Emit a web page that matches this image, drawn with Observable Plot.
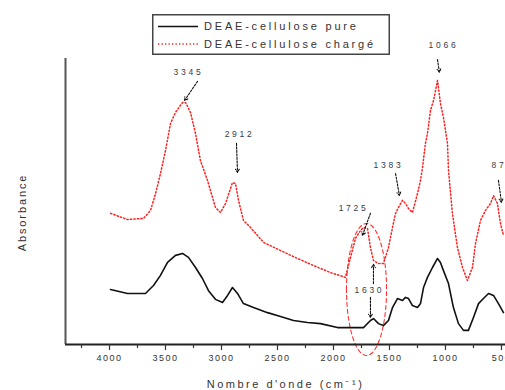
<!DOCTYPE html>
<html><head><meta charset="utf-8">
<script src="https://cdn.jsdelivr.net/npm/d3@7"></script>
<script src="https://cdn.jsdelivr.net/npm/@observablehq/plot@0.6"></script>
<style>
html,body{margin:0;padding:0;background:#fff;}
#wrap{position:relative;width:505px;height:390px;overflow:hidden;}
#legend{position:absolute;left:152px;top:14px;}
</style>
</head><body>
<div id="wrap">
  <div id="chart"></div>
  <svg id="legend" width="238" height="41" xmlns="http://www.w3.org/2000/svg"></svg>
</div>
<script>
// Series: DEAE-cellulose chargé (red, dotted)
const wnCharge = [3991,3839,3696,3634,3589,3545,3500,3455,3411,3348,3321,3277,3232,3188,3125,3054,3009,2964,2902,2875,2848,2804,2741,2625,2473,2321,2179,2027,1893,1848,1804,1759,1732,1696,1670,1643,1598,1554,1509,1473,1446,1420,1384,1357,1330,1295,1250,1223,1205,1179,1161,1134,1107,1071,1045,1018,982,973,938,893,848,804,759,732,687,643,598,571,536,509,482];
const absCharge = [0.465,0.443,0.447,0.475,0.535,0.606,0.688,0.784,0.823,0.858,0.858,0.823,0.748,0.652,0.582,0.486,0.468,0.500,0.574,0.571,0.511,0.440,0.415,0.362,0.333,0.305,0.280,0.255,0.238,0.309,0.376,0.404,0.415,0.411,0.344,0.298,0.287,0.287,0.344,0.415,0.465,0.486,0.511,0.500,0.482,0.468,0.535,0.582,0.628,0.713,0.748,0.830,0.865,0.936,0.855,0.805,0.713,0.617,0.465,0.344,0.273,0.227,0.273,0.358,0.440,0.475,0.500,0.528,0.500,0.429,0.387];
// Series: DEAE-cellulose pure (black, solid)
const wnPure = [3991,3839,3679,3607,3545,3482,3411,3348,3295,3232,3170,3116,3054,2991,2946,2902,2857,2804,2714,2589,2473,2357,2232,2116,1964,1732,1670,1643,1598,1554,1509,1473,1429,1384,1357,1330,1295,1250,1223,1196,1161,1116,1071,1045,1018,973,929,884,839,795,750,705,661,616,571,527,482];
const absPure = [0.195,0.181,0.181,0.209,0.245,0.291,0.316,0.323,0.309,0.273,0.234,0.191,0.160,0.149,0.174,0.202,0.181,0.145,0.131,0.113,0.099,0.085,0.078,0.074,0.060,0.060,0.085,0.092,0.074,0.067,0.085,0.131,0.163,0.156,0.167,0.163,0.138,0.131,0.145,0.202,0.238,0.273,0.305,0.291,0.262,0.216,0.131,0.074,0.050,0.050,0.096,0.145,0.163,0.181,0.174,0.145,0.113];
// Axis ticks
const majorTicks = [4000,3500,3000,2500,2000,1500,1000,500];
const minorTicks = [4250,3750,3250,2750,2250,1750,1250,750];
const xDomain = [4393, 464];
const yDomain = [0, 1.014];
// Legend entries
const legendLabels = ["DEAE-cellulose pure", "DEAE-cellulose chargé"];
// Peak annotations
const peakText = ["3345","2912","1066","1383","87","1725","1630"];
const peakTx = [3295,2839,1018,1509,522,1821,1679];
const peakTy = [0.965,0.745,1.062,0.635,0.635,0.484,0.191];
const arrX1 = [3214,2866,1071,1446,527,1670,1643,1670];
const arrY1 = [0.933,0.713,1.010,0.606,0.582,0.465,0.216,0.167];
const arrX2 = [3330,2857,1054,1411,500,1741,1643,1670];
const arrY2 = [0.865,0.610,0.965,0.528,0.504,0.387,0.284,0.096];
// Dashed ellipse around 1725/1630
const ellipse = {cx: 1705, cy: 0.195, rx: 179, ry: 0.234};

const charge = wnCharge.map((w,i)=>({w, a: absCharge[i]}));
const pure = wnPure.map((w,i)=>({w, a: absPure[i]}));
const peaks = peakText.map((t,i)=>({t, x: peakTx[i], y: peakTy[i]}));
const arrows = arrX1.map((x,i)=>({x1:x, y1:arrY1[i], x2:arrX2[i], y2:arrY2[i]}));
const ellPts = d3.range(0, 361, 5).map(d => {
  const t = d*Math.PI/180;
  return {x: ellipse.cx + ellipse.rx*Math.cos(t), y: ellipse.cy + ellipse.ry*Math.sin(t)};
});

const RED = "#ff1f1f";
const RED_DASH = "1.3,2.2";
const font = "Liberation Sans, Arial, sans-serif";
const chart = Plot.plot({
  width: 505, height: 390,
  marginLeft: 65, marginRight: 0, marginTop: 58, marginBottom: 46,
  style: {fontFamily: font, background: "#fff", overflow: "visible"},
  x: {domain: xDomain},
  y: {domain: yDomain, axis: null},
  marks: [
    Plot.line(ellPts, {x: "x", y: "y", stroke: "#ff3030", strokeWidth: 1.1, strokeDasharray: "4,3"}),
    Plot.line(pure, {x: "w", y: "a", stroke: "#111", strokeWidth: 1.6}),
    Plot.line(charge, {x: "w", y: "a", stroke: RED, strokeWidth: 1.5, strokeDasharray: RED_DASH}),
    Plot.arrow(arrows, {x1: "x1", y1: "y1", x2: "x2", y2: "y2", stroke: "#111", strokeWidth: 1.1, strokeDasharray: "2,1.5", headLength: 5, bend: 0}),
    Plot.text(peaks, {x: "x", y: "y", text: "t", fontSize: 8.5, fill: "#3a3a48"}),
    Plot.ruleX([xDomain[0]], {stroke: "#555", strokeWidth: 2}),
    Plot.ruleY([yDomain[0]], {stroke: "#222", strokeWidth: 2}),
    Plot.axisX(minorTicks, {tickSize: 4, tickFormat: () => "", stroke: "#333", strokeWidth: 1.2, label: null}),
    Plot.axisX(majorTicks, {tickSize: 6, tickPadding: 4, tickFormat: d => String(d), fontSize: 9, fill: "#333", stroke: "#333", strokeWidth: 1.2, label: null}),
    Plot.text(["Nombre d'onde (cm⁻¹)"], {frameAnchor: "bottom", textAnchor: "middle", lineAnchor: "bottom", dy: 43, fontSize: 11, fill: "#333"}),
    Plot.text(["Absorbance"], {frameAnchor: "left", textAnchor: "middle", dx: -43, dy: 11, rotate: -90, fontSize: 11, fill: "#333"})
  ]
});
document.getElementById("chart").appendChild(chart);

// letter spacing of the original's wide-set type
const tickSet = new Set(majorTicks.map(String));
const peakSet = new Set(peakText);
chart.querySelectorAll("text").forEach(t => {
  const s = t.textContent;
  let ls = null;
  if (tickSet.has(s)) ls = 1.5;
  else if (peakSet.has(s)) ls = 2.7;
  else if (s.startsWith("Nombre")) ls = 2.5;
  else if (s === "Absorbance") ls = 1.9;
  if (ls != null) t.style.letterSpacing = ls + "px";
});

// legend (line-style key) drawn with d3
const lg = d3.select("#legend");
lg.append("rect").attr("x", 0.75).attr("y", 0.75).attr("width", 236.5).attr("height", 39.5)
  .attr("fill", "#fff").attr("stroke", "#444").attr("stroke-width", 1.5);
const rowsY = [12.5, 30];
const styles = [{stroke: "#111", dash: null, w: 1.6}, {stroke: RED, dash: RED_DASH, w: 1.5}];
legendLabels.forEach((lab, i) => {
  const l = lg.append("line").attr("x1", 6).attr("x2", 46).attr("y1", rowsY[i]).attr("y2", rowsY[i])
    .attr("stroke", styles[i].stroke).attr("stroke-width", styles[i].w);
  if (styles[i].dash) l.attr("stroke-dasharray", styles[i].dash);
  lg.append("text").attr("x", 52).attr("y", rowsY[i]).attr("dy", "0.36em")
    .attr("font-family", font).attr("font-size", 11).attr("fill", "#333")
    .style("letter-spacing", "2.8px").text(lab);
});
</script>
</body></html>
